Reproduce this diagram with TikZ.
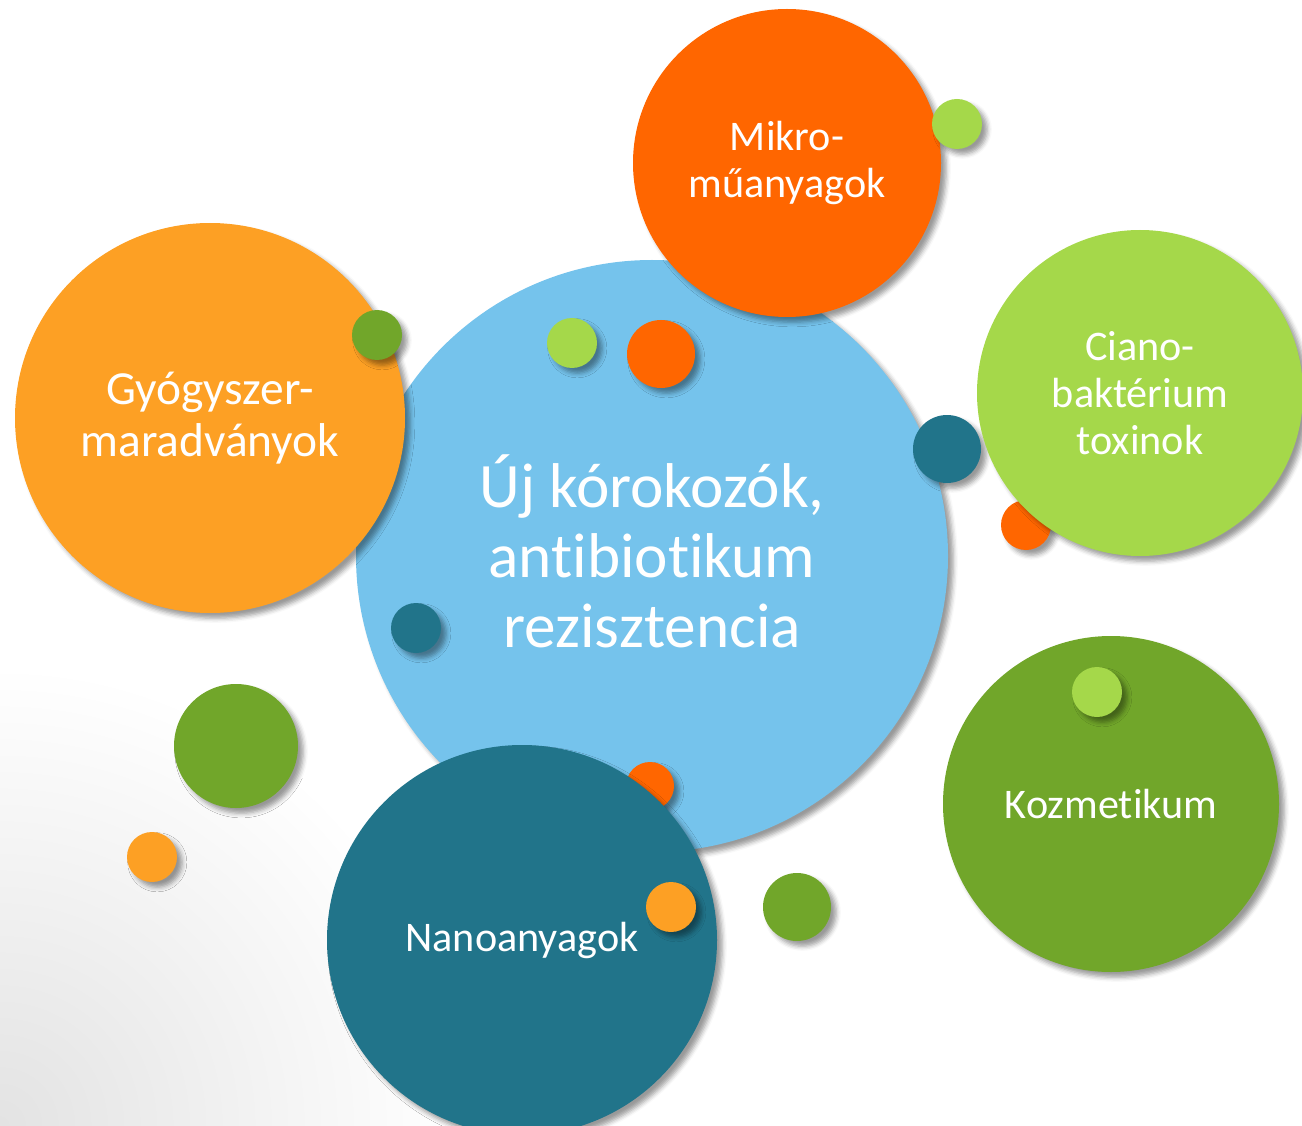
\documentclass[tikz,border=0pt]{standalone}
\usepackage{fontspec}
\setmainfont{Carlito}[Ligatures={NoCommon}]
\usetikzlibrary{shadows.blur}
\definecolor{skyblue}{HTML}{75C3EC}
\definecolor{orange}{HTML}{FF6600}
\definecolor{amber}{HTML}{FDA024}
\definecolor{lime}{HTML}{A5D84A}
\definecolor{teal}{HTML}{21748A}
\definecolor{leaf}{HTML}{71A62A}

\tikzset{
  bubble/.style={circle, inner sep=0pt, minimum size=#1, text=white, align=center,
    blur shadow={shadow xshift=1.5pt, shadow yshift=-1.5pt, shadow blur radius=1.3pt, shadow opacity=40}},
  dot/.style={bubble=#1}
}

\begin{document}
\begin{tikzpicture}[scale=1.0]

  \useasboundingbox (0, 0) rectangle (13.02, 11.25);
  \clip (0, 0) rectangle (13.02, 11.25);

  % faint grey corner
  \shade[inner color=black!11, outer color=white] (0, 0) circle (4.6);

  \node[bubble=5.92cm, fill=skyblue, font=\fontsize{18}{20}\selectfont] (center) at (6.52, 5.69)
    {Új kórokozók,\\antibiotikum\\rezisztencia\rule[-0.1cm]{0pt}{0pt}};

  \node[dot=0.48cm, fill=orange] (dot10) at (6.50, 3.39) {};
  \node[dot=0.50cm, fill=orange] (dot6) at (10.26, 6.00) {};

  \node[bubble=3.90cm, fill=amber, font=\fontsize{13.5}{14.8}\selectfont] (drugs) at (2.10, 7.07)
    {Gyógyszer-\\maradványok};
  \node[bubble=3.08cm, fill=orange, font=\fontsize{12}{13.1}\selectfont] (micro) at (7.87, 9.62)
    {Mikro-\\műanyagok};
  \node[dot=0.68cm, fill=teal] (dot5) at (9.47, 6.76) {};
  \node[bubble=3.26cm, fill=lime, font=\fontsize{12}{13.4}\selectfont] (cyano) at (11.40, 7.32)
    {Ciano-\\baktérium\\toxinok};
  \node[bubble=3.90cm, fill=teal, font=\fontsize{12}{13.4}\selectfont] (nano) at (5.22, 1.85)
    {Nanoanyagok};
  \node[bubble=3.36cm, fill=leaf, font=\fontsize{12}{13.4}\selectfont] (cosm) at (11.11, 3.21)
    {Kozmetikum};

  \node[dot=0.50cm, fill=lime] (dot1) at (9.57, 10.01) {};
  \node[dot=0.50cm, fill=leaf] (dot2) at (3.77, 7.90) {};
  \node[dot=0.50cm, fill=lime] (dot3) at (5.72, 7.82) {};
  \node[dot=0.68cm, fill=orange] (dot4) at (6.61, 7.71) {};
  \node[dot=0.50cm, fill=teal] (dot7) at (4.16, 4.97) {};
  \node[dot=1.24cm, fill=leaf] (dot8) at (2.36, 3.79) {};
  \node[dot=0.50cm, fill=amber] (dot9) at (1.52, 2.68) {};
  \node[dot=0.50cm, fill=amber] (dot11) at (6.71, 2.18) {};
  \node[dot=0.68cm, fill=leaf] (dot12) at (7.97, 2.18) {};
  \node[dot=0.50cm, fill=lime] (dot13) at (10.97, 4.33) {};

\end{tikzpicture}
\end{document}
